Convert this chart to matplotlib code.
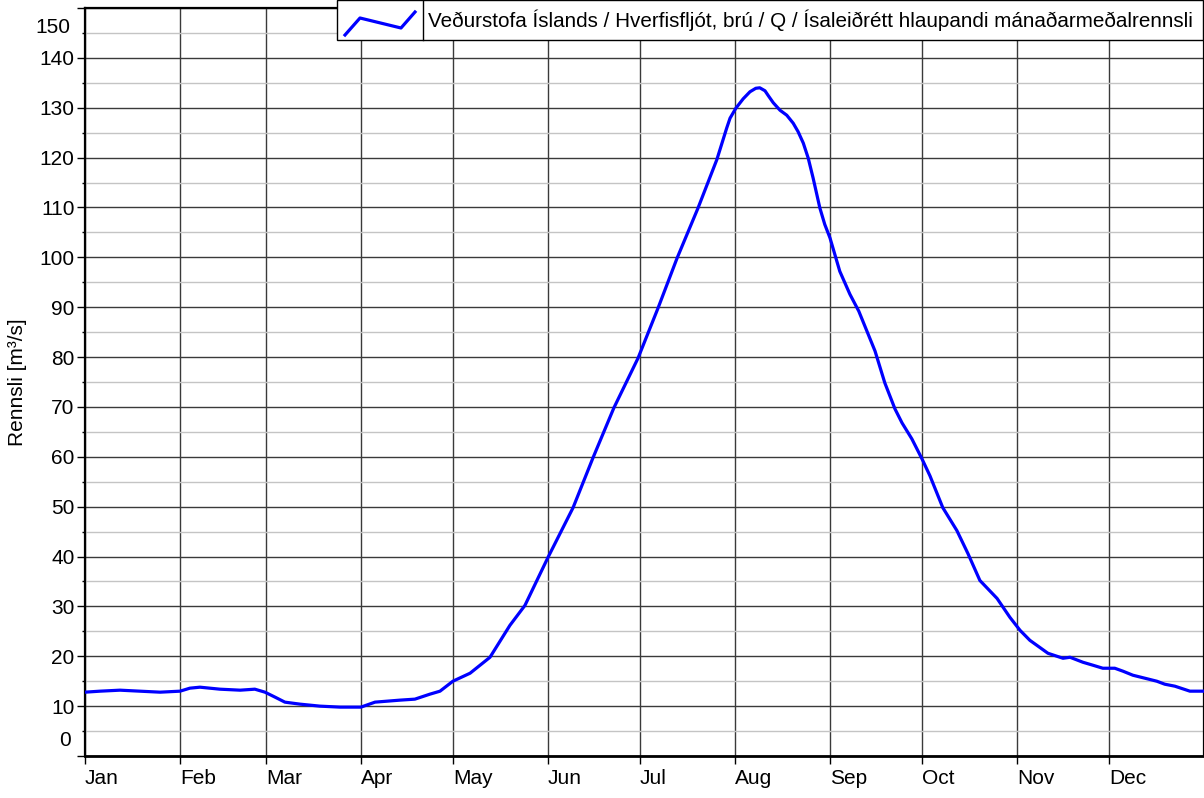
import matplotlib
matplotlib.use("Agg")
import matplotlib.pyplot as plt
from matplotlib.patches import Rectangle
from matplotlib.lines import Line2D
from matplotlib.ticker import MultipleLocator, FixedLocator

plt.rcParams['font.family'] = ['Liberation Sans', 'DejaVu Sans']

# day of year (0 = 1 Jan) and flow [m3/s]
days = [0, 4.9, 11.4, 17.9, 24.5, 31.0, 34.2, 37.5, 44.0, 50.6, 55.4, 58.7, 62.0,
        65.2, 70.1, 76.6, 83.2, 90.0, 94.6, 102.7, 107.6, 112.5, 115.8, 120.0,
        125.6, 132.1, 138.6, 143.5, 151.0, 159.2, 165.7, 172.5, 180.4, 186.9,
        193.1, 199.9, 206.1, 209.3, 210.4, 212.3, 214.7, 216.9, 218.8, 220.1,
        221.8, 222.9, 224.5, 226.7, 228.9, 231.0, 232.6, 234.3, 235.9, 237.5,
        239.7, 241.3, 243.0, 246.2, 249.5, 252.4, 257.7, 260.9, 264.2,
        266.5, 269.7, 273.0, 275.6, 279.8, 284.4, 288.0, 291.9, 297.5, 301.7,
        305.0, 308.2, 314.1, 319.0, 321.3, 325.5, 328.8, 332.0, 335.9, 338.6,
        341.8, 349.6, 352.2, 355.5, 360.4, 365.0]
flow = [12.8, 13.0, 13.2, 13.0, 12.8, 13.0, 13.6, 13.8, 13.4, 13.2, 13.4, 12.8, 11.8,
        10.8, 10.4, 10.0, 9.8, 9.8, 10.8, 11.2, 11.4, 12.4, 13.0, 15.0,
        16.6, 19.8, 26.2, 30.2, 39.8, 49.8, 59.8, 69.8, 79.8, 89.8,
        99.8, 109.8, 119.6, 125.9, 127.9, 129.9, 131.8, 133.2, 133.9, 134.0,
        133.4, 132.4, 131.0, 129.5, 128.5, 126.9, 125.2, 122.9, 119.9, 115.9,
        109.9, 106.6, 103.9, 97.2, 92.6, 89.2, 81.2, 74.8, 69.6,
        66.8, 63.6, 59.6, 56.2, 49.8, 45.2, 40.6, 35.2, 31.6, 27.8,
        25.2, 23.2, 20.6, 19.6, 19.8, 18.8, 18.2, 17.6, 17.6, 17.0,
        16.2, 15.0, 14.4, 14.0, 13.0, 13.0]

month_starts = [0, 31, 59, 90, 120, 151, 181, 212, 243, 273, 304, 334]
month_labels = ['Jan', 'Feb', 'Mar', 'Apr', 'May', 'Jun', 'Jul', 'Aug', 'Sep',
                'Oct', 'Nov', 'Dec']
y_major = list(range(0, 151, 10))
legend_label = 'Veðurstofa Íslands / Hverfisfljót, brú / Q / Ísaleiðrétt hlaupandi mánaðarmeðalrennsli'
y_label = 'Rennsli [m³/s]'

W, H = 1204, 798
FS = 15
fig = plt.figure(figsize=(W / 100, H / 100), dpi=100)
ax = fig.add_axes([85 / W, 1 - 756 / H, (W - 85) / W, (756 - 8) / H])

ax.set_xlim(0, 365)
ax.set_ylim(0, 150)

# grid
ax.yaxis.set_major_locator(FixedLocator(y_major))
ax.yaxis.set_minor_locator(MultipleLocator(5))
ax.xaxis.set_major_locator(FixedLocator(month_starts))
ax.grid(True, which='major', color='#3a3a3a', linewidth=1.0)
ax.grid(True, which='minor', axis='y', color='#c4c4c4', linewidth=1.0)
ax.set_axisbelow(True)

ax.plot(days, flow, color='#0000ff', linewidth=2.3, solid_joinstyle='round',
        solid_capstyle='round', zorder=3)

# ticks
ax.set_xticks(month_starts)
ax.set_xticklabels(month_labels, ha='left', fontsize=FS)
ax.tick_params(axis='x', which='major', length=6, width=1, pad=3.5, colors='black')
ax.tick_params(axis='y', which='major', length=5.5, width=1, pad=2, labelsize=FS)
ax.tick_params(axis='y', which='minor', length=2.5, width=1)

ylabels = [str(v) for v in y_major]
ylabels[0] = ''
ylabels[-1] = ''
ax.set_yticklabels(ylabels)
# edge labels shifted inward as in the reference
ax.annotate(str(y_major[0]), xy=(0, y_major[0]), xycoords=('axes fraction', 'data'),
            xytext=(-10.5, 11.5), textcoords='offset points', ha='right', va='center',
            fontsize=FS)
ax.annotate(str(y_major[-1]), xy=(0, y_major[-1]), xycoords=('axes fraction', 'data'),
            xytext=(-10.5, -13.7), textcoords='offset points', ha='right', va='center',
            fontsize=FS)

for s in ['left', 'bottom', 'top', 'right']:
    ax.spines[s].set_color('black')
ax.spines['bottom'].set_linewidth(2.0)
ax.spines['left'].set_linewidth(1.6)
ax.spines['top'].set_linewidth(1.6)
ax.spines['right'].set_linewidth(1.6)

ax.set_ylabel(y_label, fontsize=FS)
ax.yaxis.set_label_coords(-58 / (W - 85), 0.5)

# legend (custom box as in the reference)
def fx(x):
    return x / W

def fy(y):
    return 1 - y / H

fig.add_artist(Rectangle((fx(337), fy(40)), fx(1203) - fx(337), fy(0.5) - fy(40),
                         transform=fig.transFigure, facecolor='white',
                         edgecolor='black', linewidth=1.0, zorder=10))
fig.add_artist(Line2D([fx(423), fx(423)], [fy(0.5), fy(40)], transform=fig.transFigure,
                      color='black', linewidth=1.0, zorder=11))
fig.add_artist(Line2D([fx(345), fx(360), fx(401), fx(415)],
                      [fy(35), fy(18), fy(28), fy(12)], transform=fig.transFigure,
                      color='#0000ff', linewidth=2.3, zorder=11))
fig.text(fx(428), fy(20.5), legend_label, ha='left', va='center', fontsize=14.9, zorder=12)

fig.savefig('out.png', dpi=100)
